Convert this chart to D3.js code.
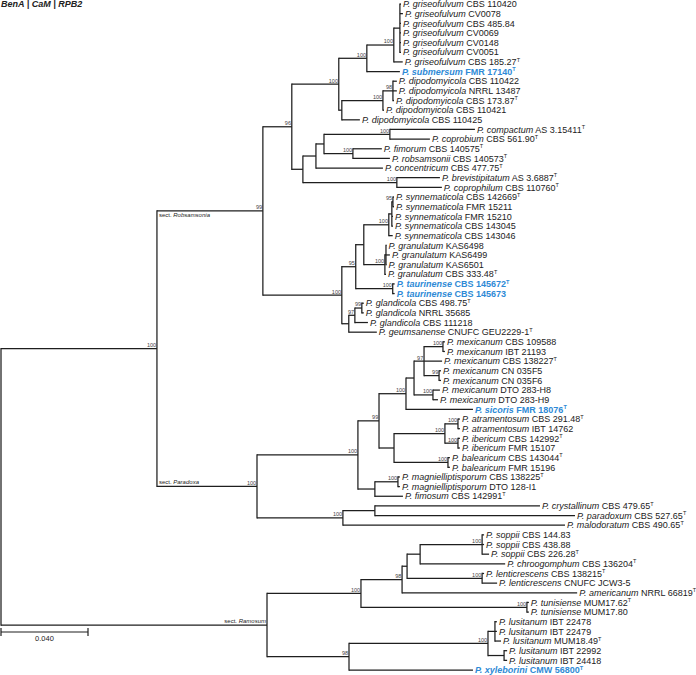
<!DOCTYPE html>
<meta charset="utf-8">
<script src="https://d3js.org/d3.v7.min.js"></script>
<style>
  body { margin: 0; background: #fff; }
  text { font-family: "Liberation Sans", Arial, sans-serif; }
</style>
<body>
<svg id="tree" width="696" height="675"></svg>
<script>

// leaves, top to bottom (index = leaf id used in the newick string)
var species = [
  "griseofulvum", "griseofulvum", "griseofulvum", "griseofulvum", "griseofulvum", "griseofulvum", "griseofulvum",
  "submersum",
  "dipodomyicola", "dipodomyicola", "dipodomyicola", "dipodomyicola", "dipodomyicola",
  "compactum", "coprobium", "fimorum", "robsamsonii", "concentricum", "brevistipitatum", "coprophilum",
  "synnematicola", "synnematicola", "synnematicola", "synnematicola", "synnematicola",
  "granulatum", "granulatum", "granulatum", "granulatum",
  "taurinense", "taurinense",
  "glandicola", "glandicola", "glandicola", "geumsanense",
  "mexicanum", "mexicanum", "mexicanum", "mexicanum", "mexicanum", "mexicanum", "mexicanum",
  "sicoris", "atramentosum", "atramentosum", "ibericum", "ibericum", "balearicum", "balearicum",
  "magnielliptisporum", "magnielliptisporum", "fimosum",
  "crystallinum", "paradoxum", "malodoratum",
  "soppii", "soppii", "soppii", "chroogomphum", "lenticrescens", "lenticrescens", "americanum",
  "tunisiense", "tunisiense",
  "lusitanum", "lusitanum", "lusitanum", "lusitanum", "lusitanum",
  "xyleborini"
];
var strains = [
  "CBS 110420", "CV0078", "CBS 485.84", "CV0069", "CV0148", "CV0051", "CBS 185.27",
  "FMR 17140",
  "CBS 110422", "NRRL 13487", "CBS 173.87", "CBS 110421", "CBS 110425",
  "AS 3.15411", "CBS 561.90", "CBS 140575", "CBS 140573", "CBS 477.75", "AS 3.6887", "CBS 110760",
  "CBS 142669", "FMR 15211", "FMR 15210", "CBS 143045", "CBS 143046",
  "KAS6498", "KAS6499", "KAS6501", "CBS 333.48",
  "CBS 145672", "CBS 145673",
  "CBS 498.75", "NRRL 35685", "CBS 111218", "CNUFC GEU2229-1",
  "CBS 109588", "IBT 21193", "CBS 138227", "CN 035F5", "CN 035F6", "DTO 283-H8", "DTO 283-H9",
  "FMR 18076", "CBS 291.48", "IBT 14762", "CBS 142992", "FMR 15107", "CBS 143044", "FMR 15196",
  "CBS 138225", "DTO 128-I1", "CBS 142991",
  "CBS 479.65", "CBS 527.65", "CBS 490.65",
  "CBS 144.83", "CBS 438.88", "CBS 226.28", "CBS 136204", "CBS 138215", "CNUFC JCW3-5", "NRRL 66819",
  "MUM17.62", "MUM17.80",
  "IBT 22478", "IBT 22479", "MUM18.49", "IBT 22992", "IBT 24418",
  "CMW 56800"
];
// ex-type strains (superscript T)
var typeStrains = [6, 7, 10, 13, 14, 15, 16, 17, 18, 19, 20, 28, 29, 31, 34, 37, 42, 43, 45, 47, 49, 51,
  52, 53, 54, 57, 58, 59, 61, 62, 66, 69];
// new species, shown in blue bold
var newTaxa = [7, 29, 30, 42, 69];

// topology with branch lengths; internal labels are bootstrap values
var newick =
  "(" +
    "(" +
      "(" +
        "(" +
          "((((0:0.0005,1:0.0014,2:0.0005,3:0.0005,4:0.0005,5:0.0005):0.0028,6:0.0041)100:0.0124,7:0.0152)100:0.0129," +
          "(((8:0.0018,9:0.0018,10:0.0005)98:0.0046,11:0.0005)100:0.0189,12:0.0083):0.0014)100:0.0216," +
          "((((13:0.0391,14:0.0184)100:0.0303,(15:0.0133,16:0.017)100:0.0133):0.0037,17:0.0308):0.006," +
          "(18:0.0198,19:0.0207)100:0.0432):0.0051" +
        ")96:0.0133," +
        "(" +
          "(((((20:0.0005,21:0.0005)95:0.0005,22:0.0005,23:0.0005):0.0014,24:0.0018)100:0.0115," +
          "((25:0.0002,26:0.0018,27:0.0002):0.0005,28:0.0005)100:0.0097):0.0037," +
          "(29:0.0009,30:0.0009)100:0.017)95:0.0064," +
          "(((31:0.0009,32:0.0009)99:0.0032,33:0.006)97:0.0028,34:0.0129):0.0032" +
        ")100:0.0363" +
      ")99:0.0487," +
      "(" +
        "(" +
          "(((((35:0.0009,36:0.0009)100:0.0087,37:0.0083,(38:0.0009,39:0.0009)99:0.0069)97:0.0046," +
          "(40:0.0032,41:0.0023)100:0.0087):0.0037,42:0.0308)100:0.0124," +
          "(((43:0.0009,44:0.0009)100:0.006,(45:0.0009,46:0.0009)100:0.006)100:0.0234," +
          "(47:0.0009,48:0.0009)100:0.0248):0.0069)99:0.0097," +
          "((49:0.0009,50:0.0009)100:0.0106,51:0.0129):0.0078" +
        ")100:0.0464," +
        "((52:0.0759,53:0.092):0.0147,54:0.1021)100:0.0395" +
      ")100:0.046" +
    ")100:0.0717," +
    "(" +
      "(" +
        "((((55:0.0009,56:0.0009,57:0.0032)100:0.0285,58:0.0391):0.006," +
        "(59:0.0009,60:0.0069)100:0.0345):0.0023,61:0.0805)98:0.0189," +
        "(62:0.0009,63:0.0009)100:0.0763" +
      ")100:0.0432," +
      "(" +
        "((64:0.0009,65:0.0009,66:0.0028):0.0032,(67:0.0014,68:0.0014):0.0074)100:0.0639," +
        "69:0.057" +
      ")98:0.0377" +
    "):0.1223" +
  ");";

// sections: name and first/last leaf of the clade
var sectNames = ["Robsamsonia", "Paradoxa", "Ramosum"];
var sectFirst = [0, 35, 55];
var sectLast = [34, 54, 69];

var scaleBarValue = 0.04;
var header = "BenA | CaM | RPB2";

function parseNewick(s) {
  var i = 0;
  function node() {
    var n = {};
    if (s[i] == "(") {
      i++;
      n.children = [];
      do { n.children.push(node()); } while (s[i++] == ",");
    }
    var lab = "";
    while (i < s.length && ":,);".indexOf(s[i]) < 0) lab += s[i++];
    n.label = lab;
    n.length = 0;
    if (s[i] == ":") {
      i++;
      var num = "";
      while (i < s.length && ",);".indexOf(s[i]) < 0) num += s[i++];
      n.length = +num;
    }
    return n;
  }
  return node();
}

var svg = d3.select("#tree");
var blue = "#2e8ad6";
var ink = "#1e1e1e";

var x = d3.scaleLinear().domain([0, scaleBarValue]).range([1, 88]);
var y = d3.scaleLinear().domain([0, species.length - 1]).range([4, 670]);

var root = d3.hierarchy(parseNewick(newick));
root.eachBefore(function(d) { d.len = (d.parent ? d.parent.len : 0) + d.data.length; });
root.eachAfter(function(d) {
  d.px = x(d.len);
  if (d.children) d.py = (d.children[0].py + d.children[d.children.length - 1].py) / 2;
  else { d.leaf = +d.data.label; d.py = y(d.leaf); }
});

var g = svg.append("g");

// horizontal branches
g.selectAll(".hbr")
  .data(root.descendants().filter(function(d) { return d.parent; }))
  .join("path")
  .attr("d", function(d) { return "M" + d.parent.px + "," + d.py + "H" + d.px; })
  .attr("stroke", ink).attr("stroke-width", 1.25).attr("fill", "none");

// vertical connectors
g.selectAll(".vbr")
  .data(root.descendants().filter(function(d) { return d.children; }))
  .join("path")
  .attr("d", function(d) {
    return "M" + d.px + "," + d.children[0].py + "V" + d.children[d.children.length - 1].py;
  })
  .attr("stroke", ink).attr("stroke-width", 1.25).attr("fill", "none").attr("stroke-linecap", "square");

// bootstrap values
g.selectAll(".bs")
  .data(root.descendants().filter(function(d) { return d.children && d.data.label; }))
  .join("text")
  .attr("x", function(d) { return d.px - 0.8; })
  .attr("y", function(d) { return d.py - 1.6; })
  .attr("text-anchor", "end")
  .style("font-size", "5.5px")
  .attr("fill", "#444")
  .text(function(d) { return d.data.label; });

// leaf labels
var lbl = g.selectAll(".leaf")
  .data(root.leaves())
  .join("text")
  .attr("x", function(d) { return d.px + 2; })
  .attr("y", function(d) { return d.py + 3.2; })
  .style("font-size", "9px")
  .attr("fill", function(d) { return newTaxa.indexOf(d.leaf) >= 0 ? blue : "#222"; })
  .style("font-weight", function(d) { return newTaxa.indexOf(d.leaf) >= 0 ? "bold" : "normal"; });
lbl.append("tspan").style("font-style", "italic")
  .text(function(d) { return "P. " + species[d.leaf]; });
lbl.append("tspan")
  .text(function(d) { return " " + strains[d.leaf]; });
lbl.filter(function(d) { return typeStrains.indexOf(d.leaf) >= 0; })
  .append("tspan")
  .attr("dy", -3.6)
  .style("font-size", "5.5px")
  .text("T");

// section labels
sectNames.forEach(function(name, k) {
  var node = root.descendants().find(function(d) {
    var l = d.leaves();
    return l[0].leaf == sectFirst[k] && l[l.length - 1].leaf == sectLast[k];
  });
  if (!node) return;
  var t = g.append("text").style("font-size", "6px").attr("fill", "#222");
  if (k == 0) t.attr("x", node.parent.px + 2).attr("y", node.py + 6);
  else if (k == 1) t.attr("x", node.parent.px + 2).attr("y", node.py - 2);
  else t.attr("x", node.px - 1).attr("y", node.py - 2).attr("text-anchor", "end");
  t.append("tspan").text("sect. ");
  t.append("tspan").style("font-style", "italic").text(name);
});

// scale bar
var sb = svg.append("g").attr("stroke", ink).attr("stroke-width", 1.2);
sb.append("line").attr("x1", x(0)).attr("x2", x(scaleBarValue)).attr("y1", 632).attr("y2", 632);
sb.append("line").attr("x1", x(0)).attr("x2", x(0)).attr("y1", 628).attr("y2", 636);
sb.append("line").attr("x1", x(scaleBarValue)).attr("x2", x(scaleBarValue)).attr("y1", 628).attr("y2", 636);
svg.append("text")
  .attr("x", (x(0) + x(scaleBarValue)) / 2).attr("y", 641)
  .attr("text-anchor", "middle").style("font-size", "7.5px").attr("fill", "#222")
  .text(d3.format(".3f")(scaleBarValue));

// header
svg.append("text")
  .attr("x", 1).attr("y", 7)
  .style("font-size", "9px").style("font-weight", "bold").style("font-style", "italic")
  .attr("fill", "#222")
  .text(header);

</script>
</body>
